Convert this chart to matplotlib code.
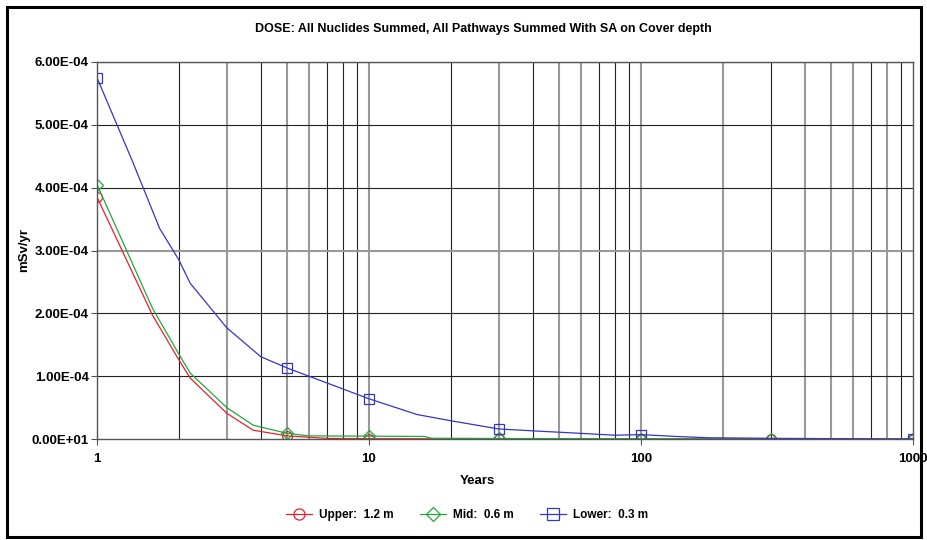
import numpy as np
import matplotlib
matplotlib.use("Agg")
import matplotlib.pyplot as plt
from matplotlib.lines import Line2D
from matplotlib.patches import Rectangle

plt.rcParams['font.family'] = ['Liberation Sans', 'DejaVu Sans']

# Dose over time for three cover depths (mSv/yr)
years_upper = [1, 1.6, 2, 2.2, 3, 3.75, 5, 7, 10, 30, 100, 300, 1000]
dose_upper = [3.85e-4, 1.97e-4, 1.26e-4, 0.97e-4, 0.41e-4, 0.14e-4, 0.05e-4,
              0.01e-4, 0.005e-4, 0.002e-4, 0.001e-4, 0.0005e-4, 0.0]

years_mid = [1, 1.6, 2, 2.2, 3, 3.75, 5, 6, 10, 16, 17, 30, 100, 300, 1000]
dose_mid = [4.05e-4, 2.08e-4, 1.35e-4, 1.05e-4, 0.50e-4, 0.22e-4, 0.09e-4,
            0.05e-4, 0.045e-4, 0.04e-4, 0.012e-4, 0.008e-4, 0.004e-4, 0.001e-4, 0.0]

years_lower = [1, 1.35, 1.7, 2, 2.2, 3, 4, 5, 10, 15, 20, 30, 40, 60, 80, 100,
               135, 176, 320, 1000]
dose_lower = [5.75e-4, 4.42e-4, 3.35e-4, 2.85e-4, 2.48e-4, 1.77e-4, 1.31e-4,
              1.13e-4, 0.64e-4, 0.39e-4, 0.29e-4, 0.16e-4, 0.13e-4, 0.09e-4,
              0.06e-4, 0.07e-4, 0.04e-4, 0.02e-4, 0.01e-4, 0.0]

marker_years = [1, 5, 10, 30, 100, 300, 1000]

y_ticks = [0, 1e-4, 2e-4, 3e-4, 4e-4, 5e-4, 6e-4]
y_tick_labels = ["0.00E+01", "1.00E-04", "2.00E-04", "3.00E-04",
                 "4.00E-04", "5.00E-04", "6.00E-04"]

series = [
    ("Upper:  1.2 m", years_upper, dose_upper, "#e8202a", "o"),
    ("Mid:  0.6 m", years_mid, dose_mid, "#22a83c", "D"),
    ("Lower:  0.3 m", years_lower, dose_lower, "#3535c8", "s"),
]

fig = plt.figure(figsize=(9.27, 5.4), dpi=100)
ax = fig.add_axes([97 / 927, 1 - 439 / 540, (913 - 97) / 927, (439 - 62) / 540])

# outer frame round the whole chart
fig.patches.append(Rectangle((7 / 927, 3 / 540), 914 / 927, 530 / 540,
                             transform=fig.transFigure, fill=False,
                             edgecolor="black", linewidth=2.2))

ax.set_xscale("log")
ax.set_xlim(1, 1000)
ax.set_ylim(0, 6e-4)

# grid: some lines render a bit lighter and wider, like the original export
gray_x = {3, 5, 6, 10, 30, 50, 60, 100, 200, 400, 500, 600, 800}
for dec in [1, 10, 100]:
    for m in range(1, 10):
        v = dec * m
        if v == 1:
            continue
        if v in gray_x:
            ax.axvline(v, color="#999999", lw=1.5, zorder=0.5)
        else:
            ax.axvline(v, color="#222222", lw=0.8, zorder=0.5)
for yv in y_ticks[1:]:
    if yv == 3e-4:
        ax.axhline(yv, color="#999999", lw=1.5, zorder=0.5)
    else:
        ax.axhline(yv, color="#222222", lw=0.8, zorder=0.5)

handles = []
for label, xs, ys, color, mk in series:
    idx = [i for i, x in enumerate(xs) if x in marker_years]
    ms = 6.5 if mk == "D" else 7
    ax.plot(xs, ys, color=color, lw=0.9, marker=mk, markevery=idx,
            markersize=ms, markerfacecolor="none", markeredgecolor=color,
            markeredgewidth=0.9, zorder=2)
    handles.append(Line2D([0], [0], color=color, lw=0.9, marker=mk,
                          markersize=ms + 1, markerfacecolor="none",
                          markeredgecolor=color, markeredgewidth=0.9,
                          label=label))

for side in ["left", "bottom", "right", "top"]:
    ax.spines[side].set_color("#555555")
    ax.spines[side].set_linewidth(1.0)

ax.set_yticks(y_ticks)
ax.set_yticklabels(y_tick_labels, fontsize=9.5, fontweight="bold")
ax.set_xticks([1, 10, 100, 1000])
ax.set_xticklabels(["1", "10", "100", "1000"], fontsize=9.5, fontweight="bold")
ax.xaxis.set_minor_locator(matplotlib.ticker.NullLocator())
ax.tick_params(axis="y", length=4, width=0.8, color="#555555", pad=2)
ax.tick_params(axis="x", length=4, width=0.8, color="#555555", pad=6)

fig.text(483 / 927, 1 - 29 / 540,
         "DOSE: All Nuclides Summed, All Pathways Summed With SA on Cover depth",
         fontsize=9, fontweight="bold", ha="center", va="center")
ax.set_xlabel("Years", fontsize=9.5, fontweight="bold")
ax.xaxis.set_label_coords(0.466, -0.095)
ax.set_ylabel("mSv/yr", fontsize=9.5, fontweight="bold")
ax.yaxis.set_label_coords(-0.082, 0.5)

fig.legend(handles=handles, loc="center", bbox_to_anchor=(467 / 927, 1 - 515 / 540),
           ncol=3, frameon=False, handlelength=2.2,
           columnspacing=2.2, handletextpad=0.6,
           prop={"weight": "bold", "size": 8.5})

fig.savefig("out.png", dpi=100)
